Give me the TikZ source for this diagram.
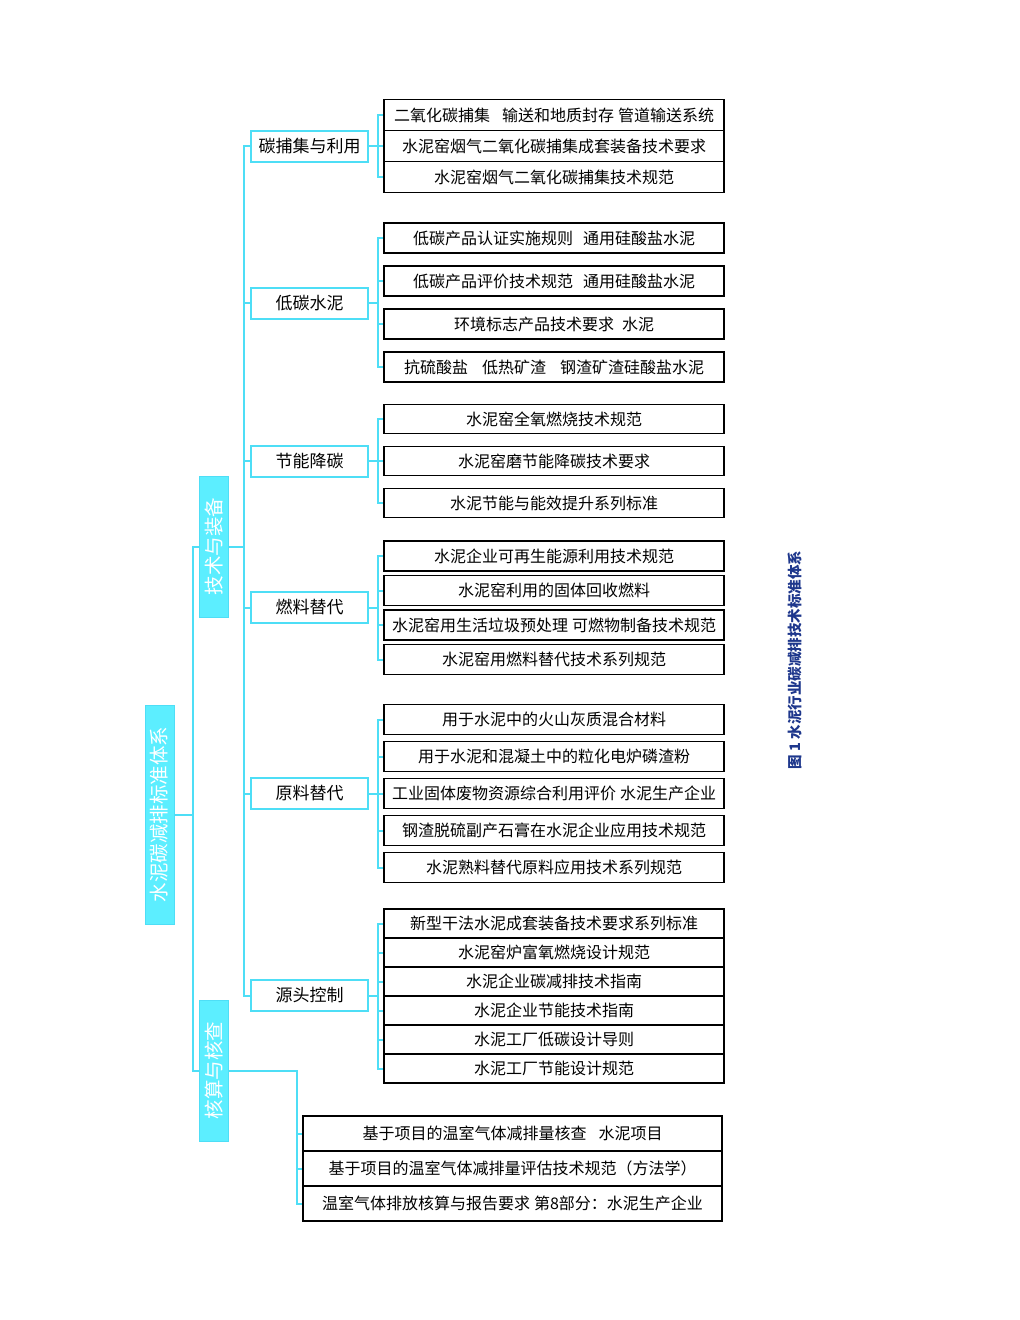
\documentclass[tikz,border=0pt]{standalone}
\usepackage{fontspec}
\setmainfont{Noto Sans CJK SC}
\usepackage{tikz}
\usetikzlibrary{calc}
\definecolor{mycyan1}{RGB}{92, 238, 255}
\definecolor{mycyan2}{RGB}{78, 222, 246}
\definecolor{mynavy1}{RGB}{30, 55, 140}
\tikzset{
  topbox/.style={fill=mycyan1, draw=mycyan2, line width=1pt, inner sep=0pt, minimum width=29pt, text=white, font=\fontsize{19.5}{21}\selectfont},
  midbox/.style={draw=mycyan2, fill=white, line width=2pt, inner sep=0pt, minimum width=117pt, minimum height=31pt, font=\fontsize{17}{18}\selectfont},
  leafbox/.style={draw=black, fill=white, line width=1.8pt, inner sep=0pt, minimum width=340pt, font=\fontsize{16}{17}\selectfont},
  bus/.style={draw=mycyan2, line width=2pt},
}

\begin{document}
\begin{tikzpicture}[x=1pt, y=-1pt]
\useasboundingbox (0,0) rectangle (1020,1320);

\node[topbox, minimum height=219pt] (root) at (159.5,814.5) {\rotatebox{90}{水泥碳减排标准体系}};
\node[topbox, minimum height=141pt] (tech) at (214,546.5) {\rotatebox{90}{技术与装备}};
\node[topbox, minimum height=141pt] (audit) at (214,1070.5) {\rotatebox{90}{核算与核查}};

\node[midbox] (capture) at (309.5,146) {碳捕集与利用};
\node[midbox] (lowcem) at (309.5,303) {低碳水泥};
\node[midbox] (saving) at (309.5,461) {节能降碳};
\node[midbox] (fuel) at (309.5,607.5) {燃料替代};
\node[midbox] (raw) at (309.5,793.5) {原料替代};
\node[midbox] (source) at (309.5,995.5) {源头控制};

\node[leafbox, minimum height=31pt] (capture1) at (554,115) {二氧化碳捕集\hspace{12pt}输送和地质封存\hspace{4pt}管道输送系统};
\node[leafbox, minimum height=31pt] (capture2) at (554,146) {水泥窑烟气二氧化碳捕集成套装备技术要求};
\node[leafbox, minimum height=31pt] (capture3) at (554,177) {水泥窑烟气二氧化碳捕集技术规范};

\node[leafbox, minimum height=30pt] (lowcem1) at (554,238) {低碳产品认证实施规则\hspace{10pt}通用硅酸盐水泥};
\node[leafbox, minimum height=30pt] (lowcem2) at (554,281) {低碳产品评价技术规范\hspace{10pt}通用硅酸盐水泥};
\node[leafbox, minimum height=30pt] (lowcem3) at (554,324) {环境标志产品技术要求\hspace{8pt}水泥};
\node[leafbox, minimum height=30pt] (lowcem4) at (554,367) {抗硫酸盐\hspace{14pt}低热矿渣\hspace{14pt}钢渣矿渣硅酸盐水泥};

\node[leafbox, minimum height=29pt] (saving1) at (554,419) {水泥窑全氧燃烧技术规范};
\node[leafbox, minimum height=29pt] (saving2) at (554,461) {水泥窑磨节能降碳技术要求};
\node[leafbox, minimum height=29pt] (saving3) at (554,503) {水泥节能与能效提升系列标准};

\node[leafbox, minimum height=30pt] (fuel1) at (554,556) {水泥企业可再生能源利用技术规范};
\node[leafbox, minimum height=30pt] (fuel2) at (554,590.5) {水泥窑利用的固体回收燃料};
\node[leafbox, minimum height=30pt] (fuel3) at (554,625) {水泥窑用生活垃圾预处理\hspace{4pt}可燃物制备技术规范};
\node[leafbox, minimum height=30pt] (fuel4) at (554,659.5) {水泥窑用燃料替代技术系列规范};

\node[leafbox, minimum height=30pt] (raw1) at (554,719.5) {用于水泥中的火山灰质混合材料};
\node[leafbox, minimum height=30pt] (raw2) at (554,756.5) {用于水泥和混凝土中的粒化电炉磷渣粉};
\node[leafbox, minimum height=30pt] (raw3) at (554,793.5) {工业固体废物资源综合利用评价\hspace{4pt}水泥生产企业};
\node[leafbox, minimum height=30pt] (raw4) at (554,830.5) {钢渣脱硫副产石膏在水泥企业应用技术规范};
\node[leafbox, minimum height=30pt] (raw5) at (554,867.5) {水泥熟料替代原料应用技术系列规范};

\node[leafbox, minimum height=29pt] (source1) at (554,923.5) {新型干法水泥成套装备技术要求系列标准};
\node[leafbox, minimum height=29pt] (source2) at (554,952.5) {水泥窑炉富氧燃烧设计规范};
\node[leafbox, minimum height=29pt] (source3) at (554,981.5) {水泥企业碳减排技术指南};
\node[leafbox, minimum height=29pt] (source4) at (554,1010.5) {水泥企业节能技术指南};
\node[leafbox, minimum height=29pt] (source5) at (554,1039.5) {水泥工厂低碳设计导则};
\node[leafbox, minimum height=29pt] (source6) at (554,1068.5) {水泥工厂节能设计规范};

\node[leafbox, minimum width=419pt, minimum height=35pt] (audit1) at (512.5,1133.5) {基于项目的温室气体减排量核查\hspace{12pt}水泥项目};
\node[leafbox, minimum width=419pt, minimum height=35pt] (audit2) at (512.5,1168.5) {基于项目的温室气体减排量评估技术规范（方法学）};
\node[leafbox, minimum width=419pt, minimum height=35pt] (audit3) at (512.5,1203.5) {温室气体排放核算与报告要求\hspace{4pt}第8部分：水泥生产企业};

\node[text=mynavy1, font=\fontsize{14.5}{16}\selectfont\bfseries] (caption) at (795,660) {\rotatebox{90}{图 1 水泥行业碳减排技术标准体系}};

\draw[bus] (root.east) -- ++(18,0) |- (tech.west);
\draw[bus] (root.east) -- ++(18,0) |- (audit.west);
\draw[bus] (tech.east) -- ++(15,0) |- (capture.west);
\draw[bus] (tech.east) -- ++(15,0) |- (lowcem.west);
\draw[bus] (tech.east) -- ++(15,0) |- (saving.west);
\draw[bus] (tech.east) -- ++(15,0) |- (fuel.west);
\draw[bus] (tech.east) -- ++(15,0) |- (raw.west);
\draw[bus] (tech.east) -- ++(15,0) |- (source.west);

\draw[bus] (capture.east) -- ++(9,0) |- (capture1.west);
\draw[bus] (capture.east) -- ++(9,0) |- (capture2.west);
\draw[bus] (capture.east) -- ++(9,0) |- (capture3.west);
\draw[bus] (lowcem.east) -- ++(9,0) |- (lowcem1.west);
\draw[bus] (lowcem.east) -- ++(9,0) |- (lowcem2.west);
\draw[bus] (lowcem.east) -- ++(9,0) |- (lowcem3.west);
\draw[bus] (lowcem.east) -- ++(9,0) |- (lowcem4.west);
\draw[bus] (saving.east) -- ++(9,0) |- (saving1.west);
\draw[bus] (saving.east) -- ++(9,0) |- (saving2.west);
\draw[bus] (saving.east) -- ++(9,0) |- (saving3.west);
\draw[bus] (fuel.east) -- ++(9,0) |- (fuel1.west);
\draw[bus] (fuel.east) -- ++(9,0) |- (fuel2.west);
\draw[bus] (fuel.east) -- ++(9,0) |- (fuel3.west);
\draw[bus] (fuel.east) -- ++(9,0) |- (fuel4.west);
\draw[bus] (raw.east) -- ++(9,0) |- (raw1.west);
\draw[bus] (raw.east) -- ++(9,0) |- (raw2.west);
\draw[bus] (raw.east) -- ++(9,0) |- (raw3.west);
\draw[bus] (raw.east) -- ++(9,0) |- (raw4.west);
\draw[bus] (raw.east) -- ++(9,0) |- (raw5.west);
\draw[bus] (source.east) -- ++(9,0) |- (source1.west);
\draw[bus] (source.east) -- ++(9,0) |- (source2.west);
\draw[bus] (source.east) -- ++(9,0) |- (source3.west);
\draw[bus] (source.east) -- ++(9,0) |- (source4.west);
\draw[bus] (source.east) -- ++(9,0) |- (source5.west);
\draw[bus] (source.east) -- ++(9,0) |- (source6.west);
\draw[bus] (audit.east) -- ++(68,0) |- (audit1.west);
\draw[bus] (audit.east) -- ++(68,0) |- (audit2.west);
\draw[bus] (audit.east) -- ++(68,0) |- (audit3.west);
\end{tikzpicture}
\end{document}
